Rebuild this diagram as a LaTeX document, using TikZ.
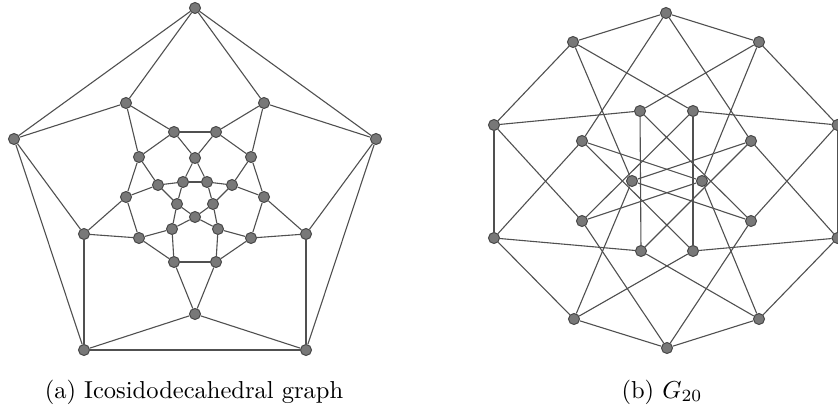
\documentclass[tikz,border=0pt]{standalone}
\definecolor{nodegray}{RGB}{120,120,120}
\definecolor{nodeborder}{RGB}{70,70,70}
\definecolor{edgegray}{RGB}{80,80,80}
\begin{document}
\begin{tikzpicture}[x=0.408pt,y=-0.408pt,
  vtx/.style={circle,fill=nodegray,draw=nodeborder,line width=0.4pt,inner sep=0pt,minimum size=4.5pt},
  gedge/.style={draw=edgegray,line width=0.45pt},
  captext/.style={anchor=base,inner sep=0pt,font=\normalsize}]
\useasboundingbox (0,0) rectangle (838,412);
% ---------- (a) icosidodecahedral graph ----------
\foreach \n/\x/\y in {a1/195/8,a2/14/139,a3/376/139,a4/84/350,a5/306/350,
  a6/126/103,a7/264/103,a8/84/234,a9/306/234,a10/195/314,
  a11/174/132,a12/216/132,a13/195/158,a14/139/157,a15/251/157,
  a16/158/185,a17/183/182,a18/207/182,a19/232/185,a20/126/197,a21/264/197,
  a22/177/204,a23/213/204,a24/195/217,a25/172/229,a26/218/229,
  a27/139/238,a28/251/238,a29/174/262,a30/216/262}
  \node[vtx] (\n) at (\x,\y) {};
\foreach \u/\v in {a1/a2,a1/a3,a1/a6,a1/a7,a2/a6,a2/a8,a2/a4,a3/a7,a3/a9,a3/a5,
  a4/a8,a4/a10,a4/a5,a5/a9,a5/a10,a10/a29,a10/a30,a6/a11,a6/a14,a7/a12,a7/a15,
  a8/a27,a8/a20,a9/a28,a9/a21,a11/a12,a11/a13,a11/a14,a12/a13,a12/a15,
  a13/a17,a13/a18,a14/a20,a14/a16,a15/a21,a15/a19,a16/a17,a16/a22,a16/a20,
  a17/a18,a17/a22,a18/a23,a18/a19,a19/a23,a19/a21,a20/a27,a21/a28,
  a22/a24,a22/a25,a23/a24,a23/a26,a24/a26,a24/a25,a25/a27,a25/a29,
  a26/a28,a26/a30,a27/a29,a28/a30,a29/a30}
  \draw[gedge] (\u) -- (\v);
% ---------- (b) G20 ----------
\foreach \n/\x/\y in {bA/666/13,bB/573/42,bC/759/42,bD/494/125,bE/837.5/125,
  bF/640/111,bG/693/111,bH/582/141,bI/751/141,bJ/632/181,bK/702/181,
  bL/582/221,bM/751/221,bDp/494/238,bEp/837.5/238,bN/641/251,bO/693/251,
  bP/574/319,bQ/759/319,bR/667/348}
  \node[vtx] (\n) at (\x,\y) {};
\foreach \u/\v in {bA/bB,bA/bC,bA/bH,bA/bI,bB/bD,bB/bG,bB/bJ,bC/bE,bC/bF,bC/bK,
  bD/bDp,bD/bF,bD/bL,bE/bEp,bE/bG,bE/bM,bF/bN,bF/bM,bG/bO,bG/bL,
  bH/bK,bH/bO,bH/bDp,bI/bJ,bI/bN,bI/bEp,bJ/bM,bJ/bP,bK/bL,bK/bQ,
  bDp/bN,bDp/bP,bEp/bO,bEp/bQ,bL/bR,bM/bR,bN/bQ,bO/bP,bP/bR,bQ/bR}
  \draw[gedge] (\u) -- (\v);
% ---------- captions ----------
\node[captext] (capa) at (194,398) {(a) Icosidodecahedral graph};
\node[captext] (capb) at (662,398) {(b) $G_{20}$};
\end{tikzpicture}
\end{document}
